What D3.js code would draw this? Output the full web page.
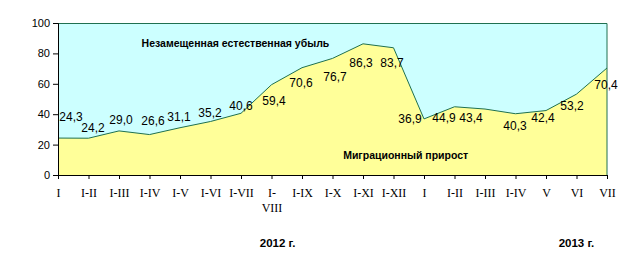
<!DOCTYPE html>
<html>
<head>
<meta charset="utf-8">
<script src="https://cdn.jsdelivr.net/npm/d3@7"></script>
<style>
  html, body { margin: 0; padding: 0; background: #fff; }
  svg { display: block; }
</style>
</head>
<body>
<svg id="chart" width="639" height="260"></svg>
<script>
// periods (cumulative since January)
const periods = ['I', 'I-II', 'I-III', 'I-IV', 'I-V', 'I-VI', 'I-VII', 'I-VIII', 'I-IX', 'I-X', 'I-XI', 'I-XII',
                 'I', 'I-II', 'I-III', 'I-IV', 'V', 'VI', 'VII'];
// share of migration gain, %
const migration = [24.3, 24.2, 29.0, 26.6, 31.1, 35.2, 40.6, 59.4, 70.6, 76.7, 86.3, 83.7,
                   36.9, 44.9, 43.4, 40.3, 42.4, 53.2, 70.4];
const yTicks = [0, 20, 40, 60, 80, 100];
const years = ['2012 г.', '2013 г.'];

// manual label nudges (px) like in the original
const labelDx = [13, 4.5, 2, 3.5, -1, -0.5, 0, 2.5, -1, 2.5, -2, -1.5, -14, -10.5, -14, -0.5, -3, -4.5, -1];
const labelDy = [-21, -10, -11, -14, -11, -8.5, -7, 16, 15, 18, 19, 15, 0, 11, 9, 12, 7, 12, 17];

const svg = d3.select('#chart');
const margin = { top: 23, right: 32, bottom: 85, left: 58 };
const width = 639, height = 260;
const innerW = width - margin.left - margin.right;
const innerH = height - margin.top - margin.bottom;

const g = svg.append('g').attr('transform', `translate(${margin.left},${margin.top})`);

const idx = d3.range(periods.length);
const x = d3.scalePoint().domain(idx).range([0, innerW]);
const y = d3.scaleLinear().domain([0, 100]).range([innerH, 0]);
// fractional category position, for captions
const xAt = v => x(0) + v * x.step();

// background = natural decrease not replaced
g.append('rect')
  .attr('width', innerW).attr('height', innerH)
  .attr('fill', '#CCFFFF');

const area = d3.area()
  .x((d, i) => x(i))
  .y0(y(0))
  .y1(d => y(d));

g.append('path').datum(migration)
  .attr('d', area)
  .attr('fill', '#FFFF99');

const line = d3.line().x((d, i) => x(i)).y(d => y(d));
g.append('path').datum(migration)
  .attr('d', line)
  .attr('fill', 'none')
  .attr('stroke', '#1F7050')
  .attr('stroke-width', 1);

// plot frame top and right
g.append('path')
  .attr('d', `M0,0.5H${innerW}V${innerH}`)
  .attr('fill', 'none')
  .attr('stroke', '#1F7050');

// value labels
g.selectAll('.val')
  .data(migration)
  .join('text')
  .attr('class', 'val')
  .attr('x', (d, i) => x(i) + labelDx[i])
  .attr('y', (d, i) => y(d) + labelDy[i])
  .attr('dy', '0.35em')
  .attr('text-anchor', 'middle')
  .attr('font-family', 'Liberation Sans, Arial, sans-serif')
  .attr('font-size', '12px')
  .attr('fill', '#000')
  .text(d => d.toFixed(1).replace('.', ','));

// axes
const yAxis = g.append('g')
  .call(d3.axisLeft(y).tickValues(yTicks).tickSize(5).tickPadding(3));
yAxis.select('.domain').attr('stroke', '#000');
yAxis.selectAll('text')
  .attr('font-family', 'Liberation Sans, Arial, sans-serif')
  .attr('font-size', '11px')
  .attr('fill', '#000');

const xAxis = g.append('g')
  .attr('transform', `translate(0,${innerH})`)
  .call(d3.axisBottom(x).tickSize(4).tickSizeOuter(0).tickFormat(() => ''));
xAxis.select('.domain').attr('stroke', '#000');

xAxis.selectAll('.tick').each(function (i) {
  const lab = periods[i];
  const t = d3.select(this).append('text')
    .attr('fill', '#000')
    .attr('font-family', 'Liberation Serif, Times New Roman, serif')
    .attr('font-size', '12px')
    .attr('text-anchor', 'middle')
    .attr('y', 22);
  if (lab === 'I-VIII') {
    t.append('tspan').attr('x', 0).text('I-');
    t.append('tspan').attr('x', 0).attr('dy', 15).text('VIII');
  } else {
    t.text(lab);
  }
});

// year captions
g.selectAll('.year')
  .data(years)
  .join('text')
  .attr('class', 'year')
  .attr('x', (d, i) => xAt(i === 0 ? 7.2 : 17))
  .attr('y', innerH + 72)
  .attr('text-anchor', 'middle')
  .attr('font-family', 'Liberation Sans, Arial, sans-serif')
  .attr('font-weight', 'bold')
  .attr('font-size', '11.5px')
  .text(d => d);

// series captions
g.append('text')
  .attr('x', xAt(2.74))
  .attr('y', y(86.5))
  .attr('dy', '0.35em')
  .attr('font-family', 'Liberation Sans, Arial, sans-serif')
  .attr('font-weight', 'bold')
  .attr('font-size', '10.5px')
  .text('Незамещенная естественная убыль');

g.append('text')
  .attr('x', xAt(9.35))
  .attr('y', y(13.2))
  .attr('dy', '0.35em')
  .attr('font-family', 'Liberation Sans, Arial, sans-serif')
  .attr('font-weight', 'bold')
  .attr('font-size', '10.5px')
  .text('Миграционный прирост');
</script>
</body>
</html>
